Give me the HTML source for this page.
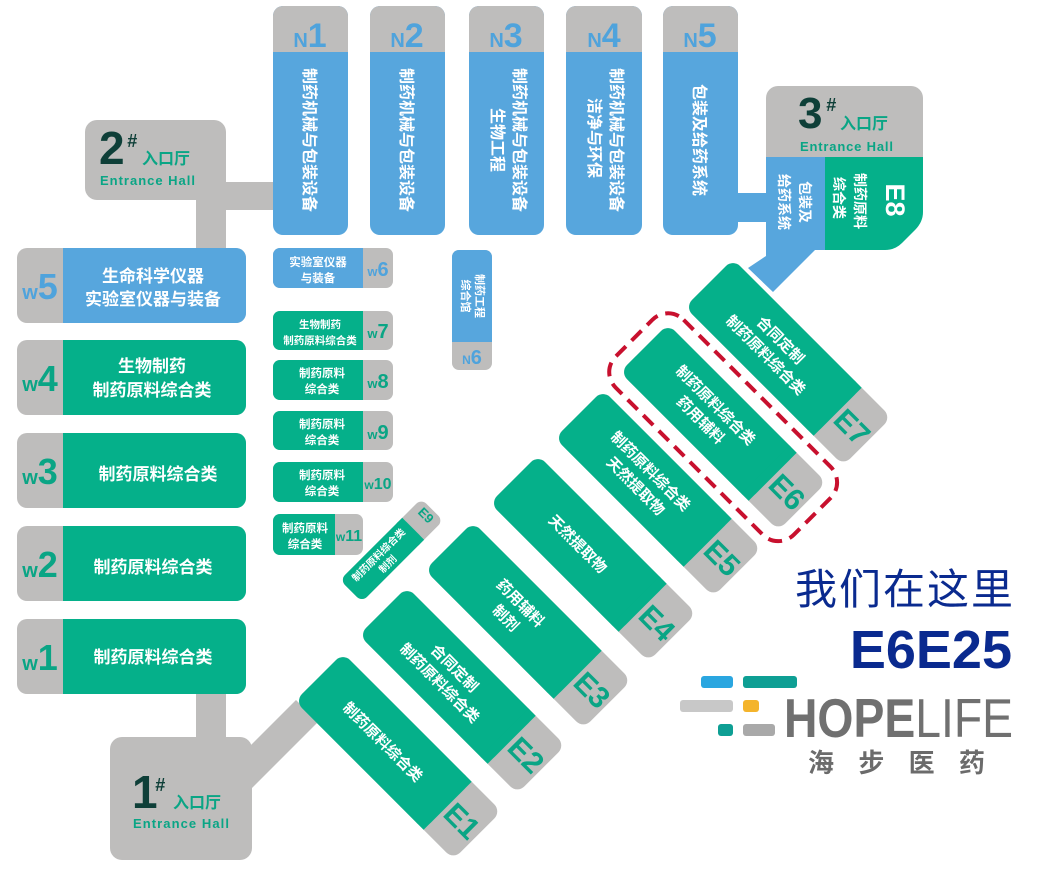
<!DOCTYPE html>
<html><head><meta charset="utf-8"><style>
html,body{margin:0;padding:0;background:#fff;}
svg{display:block;font-family:"Liberation Sans","Noto Sans CJK SC",sans-serif;font-weight:bold;}
.w{fill:#fff;}
.g{fill:#05b08a;}
.b{fill:#57a6dd;}
.y{fill:#bebdbc;}
.lg{fill:#0aa585;}
.lb{fill:#4fa3dc;}
.dk{fill:#0e3f38;}
</style></head><body>
<svg width="1044" height="876" viewBox="0 0 1044 876">
<rect class="y" x="220" y="182" width="56" height="28"/>
<rect class="y" x="196" y="195" width="30" height="58"/>
<rect class="y" x="196" y="690" width="30" height="50"/>
<polygon class="y" points="248,748 296,700 318,722 248,792"/>
<rect class="b" x="735" y="193" width="34" height="29"/>
<polygon class="b" points="766,245 820,245 773,292 748,268 766,256"/>

<rect class="y" x="85" y="120" width="141" height="80" rx="12"/>
<text class="dk" x="99" y="164" font-size="46">2</text>
<text class="dk" x="127" y="147" font-size="18" font-style="italic">#</text>
<text class="lg" x="142" y="164" font-size="16">入口厅</text>
<text class="lg" x="100" y="185" font-size="13" textLength="95">Entrance Hall</text>

<rect class="y" x="110" y="737" width="142" height="123" rx="12"/>
<text class="dk" x="132" y="808" font-size="46">1</text>
<text class="dk" x="155" y="791" font-size="18" font-style="italic">#</text>
<text class="lg" x="173" y="808" font-size="16">入口厅</text>
<text class="lg" x="133" y="828" font-size="13" textLength="96">Entrance Hall</text>

<g>
<rect class="b" x="273" y="6" width="75" height="229" rx="10"/><rect class="y" x="273" y="6" width="75" height="46" rx="10"/><rect class="y" x="273" y="40" width="75" height="12"/>
<text class="lb" x="310" y="47" text-anchor="middle"><tspan font-size="20">N</tspan><tspan font-size="34">1</tspan></text>
<text class="w" font-size="16" text-anchor="middle" transform="translate(304,140) rotate(90)">制药机械与包装设备</text>

<rect class="b" x="370" y="6" width="75" height="229" rx="10"/><rect class="y" x="370" y="6" width="75" height="46" rx="10"/><rect class="y" x="370" y="40" width="75" height="12"/>
<text class="lb" x="407" y="47" text-anchor="middle"><tspan font-size="20">N</tspan><tspan font-size="34">2</tspan></text>
<text class="w" font-size="16" text-anchor="middle" transform="translate(401,140) rotate(90)">制药机械与包装设备</text>

<rect class="b" x="469" y="6" width="75" height="229" rx="10"/><rect class="y" x="469" y="6" width="75" height="46" rx="10"/><rect class="y" x="469" y="40" width="75" height="12"/>
<text class="lb" x="506" y="47" text-anchor="middle"><tspan font-size="20">N</tspan><tspan font-size="34">3</tspan></text>
<text class="w" font-size="16" text-anchor="middle" transform="translate(514,140) rotate(90)">制药机械与包装设备</text>
<text class="w" font-size="16" text-anchor="middle" transform="translate(492,140) rotate(90)">生物工程</text>

<rect class="b" x="566" y="6" width="76" height="229" rx="10"/><rect class="y" x="566" y="6" width="76" height="46" rx="10"/><rect class="y" x="566" y="40" width="76" height="12"/>
<text class="lb" x="604" y="47" text-anchor="middle"><tspan font-size="20">N</tspan><tspan font-size="34">4</tspan></text>
<text class="w" font-size="16" text-anchor="middle" transform="translate(611,140) rotate(90)">制药机械与包装设备</text>
<text class="w" font-size="16" text-anchor="middle" transform="translate(589,138) rotate(90)">洁净与环保</text>

<rect class="b" x="663" y="6" width="75" height="229" rx="10"/><rect class="y" x="663" y="6" width="75" height="46" rx="10"/><rect class="y" x="663" y="40" width="75" height="12"/>
<text class="lb" x="700" y="47" text-anchor="middle"><tspan font-size="20">N</tspan><tspan font-size="34">5</tspan></text>
<text class="w" font-size="16" text-anchor="middle" transform="translate(694,140) rotate(90)">包装及给药系统</text>
</g>

<rect class="y" x="766" y="86" width="157" height="90" rx="12"/>
<rect class="b" x="766" y="157" width="59" height="93"/>
<path class="g" d="M825,157 H923 V212 Q923,222 915,230 L902,243 Q895,250 885,250 H825 Z"/>
<text class="dk" x="798" y="128" font-size="44">3</text>
<text class="dk" x="826" y="111" font-size="18" font-style="italic">#</text>
<text class="lg" x="840" y="129" font-size="16">入口厅</text>
<text class="lg" x="800" y="151" font-size="13" textLength="93">Entrance Hall</text>
<text class="w" font-size="14" text-anchor="middle" transform="translate(800,202) rotate(90)">包装及</text>
<text class="w" font-size="14" text-anchor="middle" transform="translate(779,202) rotate(90)">给药系统</text>
<text class="w" font-size="14" text-anchor="middle" transform="translate(855,201) rotate(90)">制药原料</text>
<text class="w" font-size="14" text-anchor="middle" transform="translate(834,198) rotate(90)">综合类</text>
<text class="w" font-size="27" text-anchor="middle" transform="translate(886,200) rotate(90)">E8</text>

<rect class="y" x="17" y="248" width="229" height="75" rx="10"/><rect class="b" x="63" y="248" width="183" height="75" rx="10"/><rect class="b" x="63" y="248" width="14" height="75"/>
<text class="lb" x="40" y="299" text-anchor="middle"><tspan font-size="20">w</tspan><tspan font-size="36">5</tspan></text>
<text class="w" font-size="17" text-anchor="middle" x="153" y="282">生命科学仪器</text>
<text class="w" font-size="17" text-anchor="middle" x="153" y="305">实验室仪器与装备</text>

<rect class="y" x="17" y="340" width="229" height="75" rx="10"/><rect class="g" x="63" y="340" width="183" height="75" rx="10"/><rect class="g" x="63" y="340" width="14" height="75"/>
<text class="lg" x="40" y="391" text-anchor="middle"><tspan font-size="20">w</tspan><tspan font-size="36">4</tspan></text>
<text class="w" font-size="17" text-anchor="middle" x="152" y="372">生物制药</text>
<text class="w" font-size="17" text-anchor="middle" x="152" y="396">制药原料综合类</text>

<rect class="y" x="17" y="433" width="229" height="75" rx="10"/><rect class="g" x="63" y="433" width="183" height="75" rx="10"/><rect class="g" x="63" y="433" width="14" height="75"/>
<text class="lg" x="40" y="484" text-anchor="middle"><tspan font-size="20">w</tspan><tspan font-size="36">3</tspan></text>
<text class="w" font-size="17" text-anchor="middle" x="158" y="480">制药原料综合类</text>

<rect class="y" x="17" y="526" width="229" height="75" rx="10"/><rect class="g" x="63" y="526" width="183" height="75" rx="10"/><rect class="g" x="63" y="526" width="14" height="75"/>
<text class="lg" x="40" y="577" text-anchor="middle"><tspan font-size="20">w</tspan><tspan font-size="36">2</tspan></text>
<text class="w" font-size="17" text-anchor="middle" x="153" y="573">制药原料综合类</text>

<rect class="y" x="17" y="619" width="229" height="75" rx="10"/><rect class="g" x="63" y="619" width="183" height="75" rx="10"/><rect class="g" x="63" y="619" width="14" height="75"/>
<text class="lg" x="40" y="670" text-anchor="middle"><tspan font-size="20">w</tspan><tspan font-size="36">1</tspan></text>
<text class="w" font-size="17" text-anchor="middle" x="153" y="663">制药原料综合类</text>

<rect class="y" x="273" y="248" width="120" height="40" rx="7"/><rect class="b" x="273" y="248" width="90" height="40" rx="7"/><rect class="b" x="355" y="248" width="8" height="40"/>
<text class="lb" x="378" y="276" text-anchor="middle"><tspan font-size="13">w</tspan><tspan font-size="20">6</tspan></text>
<text class="w" font-size="11.5" text-anchor="middle" x="318" y="266">实验室仪器</text>
<text class="w" font-size="11.5" text-anchor="middle" x="318" y="282">与装备</text>

<rect class="y" x="273" y="311" width="120" height="39" rx="7"/><rect class="g" x="273" y="311" width="90" height="39" rx="7"/><rect class="g" x="355" y="311" width="8" height="39"/>
<text class="lg" x="378" y="338" text-anchor="middle"><tspan font-size="13">w</tspan><tspan font-size="20">7</tspan></text>
<text class="w" font-size="10.5" text-anchor="middle" x="320" y="328">生物制药</text>
<text class="w" font-size="10.5" text-anchor="middle" x="320" y="344">制药原料综合类</text>

<rect class="y" x="273" y="360" width="120" height="40" rx="7"/><rect class="g" x="273" y="360" width="90" height="40" rx="7"/><rect class="g" x="355" y="360" width="8" height="40"/>
<text class="lg" x="378" y="388" text-anchor="middle"><tspan font-size="13">w</tspan><tspan font-size="20">8</tspan></text>
<text class="w" font-size="11.5" text-anchor="middle" x="322" y="377">制药原料</text>
<text class="w" font-size="11.5" text-anchor="middle" x="322" y="393">综合类</text>

<rect class="y" x="273" y="411" width="120" height="39" rx="7"/><rect class="g" x="273" y="411" width="90" height="39" rx="7"/><rect class="g" x="355" y="411" width="8" height="39"/>
<text class="lg" x="378" y="439" text-anchor="middle"><tspan font-size="13">w</tspan><tspan font-size="20">9</tspan></text>
<text class="w" font-size="11.5" text-anchor="middle" x="322" y="428">制药原料</text>
<text class="w" font-size="11.5" text-anchor="middle" x="322" y="444">综合类</text>

<rect class="y" x="273" y="462" width="120" height="40" rx="7"/><rect class="g" x="273" y="462" width="90" height="40" rx="7"/><rect class="g" x="355" y="462" width="8" height="40"/>
<text class="lg" x="378" y="489" text-anchor="middle"><tspan font-size="12">w</tspan><tspan font-size="16">10</tspan></text>
<text class="w" font-size="11.5" text-anchor="middle" x="322" y="479">制药原料</text>
<text class="w" font-size="11.5" text-anchor="middle" x="322" y="495">综合类</text>

<rect class="y" x="273" y="514" width="90" height="41" rx="7"/><rect class="g" x="273" y="514" width="62" height="41" rx="7"/><rect class="g" x="327" y="514" width="8" height="41"/>
<text class="lg" x="349" y="541" text-anchor="middle"><tspan font-size="12">w</tspan><tspan font-size="16">11</tspan></text>
<text class="w" font-size="11.5" text-anchor="middle" x="305" y="532">制药原料</text>
<text class="w" font-size="11.5" text-anchor="middle" x="305" y="548">综合类</text>

<rect class="y" x="452" y="250" width="40" height="120" rx="7"/><rect class="b" x="452" y="250" width="40" height="92" rx="7"/><rect class="b" x="452" y="334" width="40" height="8"/>
<text class="lb" x="472" y="364" text-anchor="middle"><tspan font-size="12">N</tspan><tspan font-size="20">6</tspan></text>
<text class="w" font-size="11" text-anchor="middle" transform="translate(476,296) rotate(90)">制药工程</text>
<text class="w" font-size="11" text-anchor="middle" transform="translate(462,296) rotate(90)">综合馆</text>

<g transform="translate(340,580) rotate(-45)">
<rect class="y" x="0" y="0" width="115" height="31" rx="7"/><rect class="g" x="0" y="0" width="88" height="31" rx="7"/><rect class="g" x="80" y="0" width="8" height="31"/>
<text class="w" font-size="10" text-anchor="middle" x="45" y="13">制药原料综合类</text>
<text class="w" font-size="10" text-anchor="middle" x="45" y="26">制剂</text>
<text class="lg" font-size="13" text-anchor="middle" transform="translate(102,15) rotate(90)">E9</text>
</g>

<g transform="translate(343,653) rotate(45)">
<rect class="y" width="224" height="68" rx="10"/><rect class="g" width="182" height="68" rx="10"/><rect class="g" x="172" width="10" height="68"/>
<text class="w" font-size="15" text-anchor="middle" x="91" y="40">制药原料综合类</text>
<text class="lg" font-size="30" text-anchor="middle" x="203" y="45">E1</text>
</g>
<g transform="translate(407,587) rotate(45)">
<rect class="y" width="224" height="68" rx="10"/><rect class="g" width="182" height="68" rx="10"/><rect class="g" x="172" width="10" height="68"/>
<text class="w" font-size="15" text-anchor="middle" x="91" y="29">合同定制</text>
<text class="w" font-size="15" text-anchor="middle" x="91" y="50">制药原料综合类</text>
<text class="lg" font-size="30" text-anchor="middle" x="203" y="45">E2</text>
</g>
<g transform="translate(473,522) rotate(45)">
<rect class="y" width="224" height="68" rx="10"/><rect class="g" width="182" height="68" rx="10"/><rect class="g" x="172" width="10" height="68"/>
<text class="w" font-size="15" text-anchor="middle" x="91" y="29">药用辅料</text>
<text class="w" font-size="15" text-anchor="middle" x="91" y="50">制剂</text>
<text class="lg" font-size="30" text-anchor="middle" x="203" y="45">E3</text>
</g>
<g transform="translate(538,455) rotate(45)">
<rect class="y" width="224" height="68" rx="10"/><rect class="g" width="182" height="68" rx="10"/><rect class="g" x="172" width="10" height="68"/>
<text class="w" font-size="15" text-anchor="middle" x="91" y="40">天然提取物</text>
<text class="lg" font-size="30" text-anchor="middle" x="203" y="45">E4</text>
</g>
<g transform="translate(603,390) rotate(45)">
<rect class="y" width="224" height="68" rx="10"/><rect class="g" width="182" height="68" rx="10"/><rect class="g" x="172" width="10" height="68"/>
<text class="w" font-size="15" text-anchor="middle" x="91" y="29">制药原料综合类</text>
<text class="w" font-size="15" text-anchor="middle" x="91" y="50">天然提取物</text>
<text class="lg" font-size="30" text-anchor="middle" x="203" y="45">E5</text>
</g>
<g transform="translate(668,324) rotate(45)">
<rect class="y" width="224" height="68" rx="10"/><rect class="g" width="182" height="68" rx="10"/><rect class="g" x="172" width="10" height="68"/>
<text class="w" font-size="15" text-anchor="middle" x="91" y="29">制药原料综合类</text>
<text class="w" font-size="15" text-anchor="middle" x="91" y="50">药用辅料</text>
<text class="lg" font-size="30" text-anchor="middle" x="203" y="45">E6</text>
<rect x="-14" y="-14" width="252" height="96" rx="22" fill="none" stroke="#c8102e" stroke-width="4" stroke-dasharray="14 8"/>
</g>
<g transform="translate(733,259) rotate(45)">
<rect class="y" width="224" height="68" rx="10"/><rect class="g" width="182" height="68" rx="10"/><rect class="g" x="172" width="10" height="68"/>
<text class="w" font-size="15" text-anchor="middle" x="91" y="29">合同定制</text>
<text class="w" font-size="15" text-anchor="middle" x="91" y="50">制药原料综合类</text>
<text class="lg" font-size="30" text-anchor="middle" x="203" y="45">E7</text>
</g>

<text x="904" y="604" font-size="42" font-weight="normal" fill="#0a2a8f" text-anchor="middle" textLength="218">我们在这里</text>
<text x="1012" y="668" font-size="54" fill="#0a2a8f" text-anchor="end">E6E25</text>

<rect x="701" y="676" width="32" height="12" rx="3" fill="#2aa6e0"/>
<rect x="743" y="676" width="54" height="12" rx="3" fill="#0e9f94"/>
<rect x="680" y="700" width="53" height="12" rx="3" fill="#c8c8c8"/>
<rect x="743" y="700" width="16" height="12" rx="3" fill="#f4b42c"/>
<rect x="718" y="724" width="15" height="12" rx="3" fill="#0e9f94"/>
<rect x="743" y="724" width="32" height="12" rx="3" fill="#a9a9a9"/>
<text x="784" y="737" font-size="55" fill="#707070" textLength="229" lengthAdjust="spacingAndGlyphs">HOPE<tspan font-weight="normal">LIFE</tspan></text>
<text x="808" y="772" font-size="26" fill="#6b6b6b" textLength="177">海步医药</text>
</svg>
</body></html>
